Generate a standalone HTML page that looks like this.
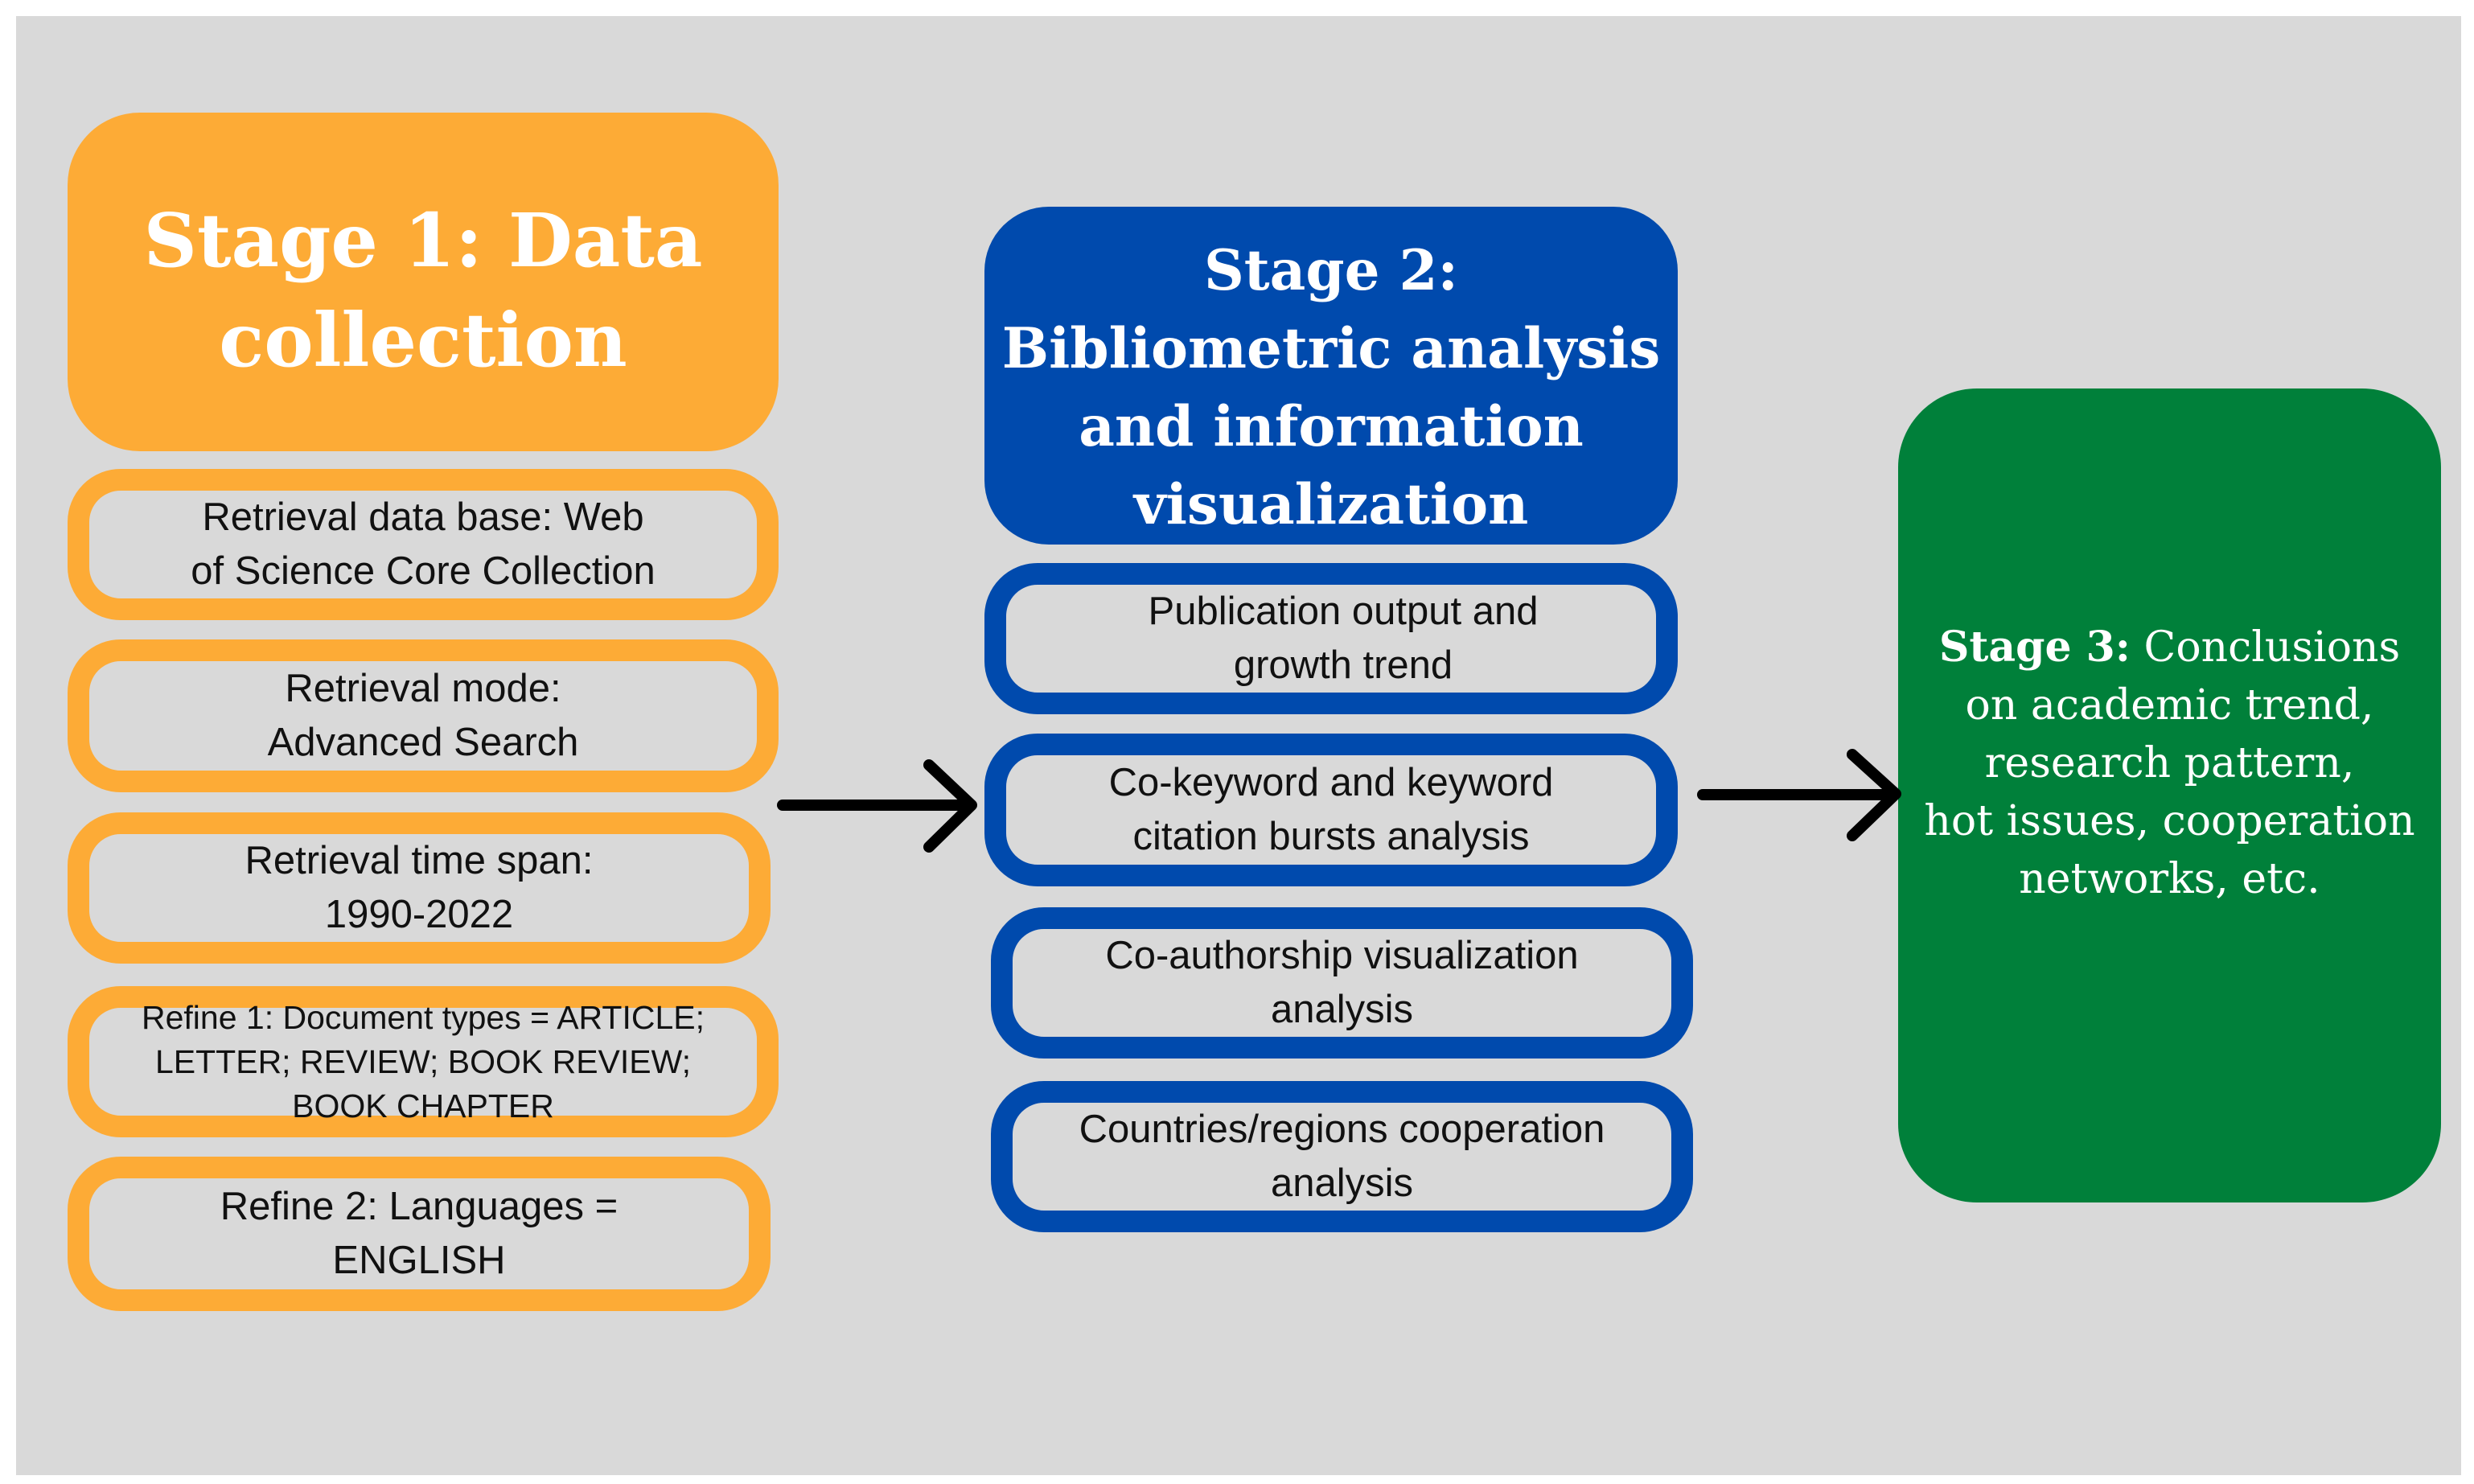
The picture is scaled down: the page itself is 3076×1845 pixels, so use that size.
<!DOCTYPE html>
<html><head><meta charset="utf-8"><style>
html,body{margin:0;padding:0;background:#fff;}
body{width:3076px;height:1845px;position:relative;overflow:hidden;}
.bg{position:absolute;left:20px;top:20px;width:3040px;height:1814px;background:#d9d9d9;}
.abs{position:absolute;box-sizing:border-box;display:flex;align-items:center;justify-content:center;text-align:center;}
.hdr{color:#fff;font-family:"DejaVu Serif","Liberation Serif",serif;font-weight:bold;}
.ob{border:27px solid #fdab36;border-radius:66px;}
.bb{border:27px solid #004aad;border-radius:66px;}
.bt{font-family:"Liberation Sans",Arial,sans-serif;font-size:49px;line-height:67px;color:#111;}
</style></head><body>
<div class="bg"></div>

<div class="abs hdr" style="left:84px;top:140px;width:884px;height:421px;background:#fdab36;border-radius:90px;font-size:92px;line-height:124px;padding-top:20px;">Stage 1: Data<br>collection</div>

<div class="abs ob bt" style="left:84px;top:583px;width:884px;height:188px;">Retrieval data base: Web<br>of Science Core Collection</div>
<div class="abs ob bt" style="left:84px;top:795px;width:884px;height:190px;">Retrieval mode:<br>Advanced Search</div>
<div class="abs ob bt" style="left:84px;top:1010px;width:874px;height:188px;">Retrieval time span:<br>1990-2022</div>
<div class="abs ob bt" style="left:84px;top:1226px;width:884px;height:188px;font-size:41px;line-height:55px;">Refine 1: Document types = ARTICLE;<br>LETTER; REVIEW; BOOK REVIEW;<br>BOOK CHAPTER</div>
<div class="abs ob bt" style="left:84px;top:1438px;width:874px;height:192px;">Refine 2: Languages =<br>ENGLISH</div>

<div class="abs hdr" style="left:1224px;top:257px;width:862px;height:420px;background:#004aad;border-radius:80px;font-size:69px;line-height:97px;padding-top:30px;">Stage 2:<br>Bibliometric analysis<br>and information<br>visualization</div>

<div class="abs bb bt" style="left:1224px;top:700px;width:862px;height:188px;padding-left:30px;">Publication output and<br>growth trend</div>
<div class="abs bb bt" style="left:1224px;top:912px;width:862px;height:190px;">Co-keyword and keyword<br>citation bursts analysis</div>
<div class="abs bb bt" style="left:1232px;top:1128px;width:873px;height:188px;">Co-authorship visualization<br>analysis</div>
<div class="abs bb bt" style="left:1232px;top:1344px;width:873px;height:188px;">Countries/regions cooperation<br>analysis</div>

<div class="abs" style="left:2360px;top:483px;width:675px;height:1012px;background:#00803a;border-radius:98px;color:#fff;font-family:'DejaVu Serif','Liberation Serif',serif;font-size:52px;line-height:72px;padding-bottom:80px;"><div><b>Stage 3:</b> Conclusions<br>on academic trend,<br>research pattern,<br>hot issues, cooperation<br>networks, etc.</div></div>

<svg style="position:absolute;left:0;top:0" width="3076" height="1845">
<g stroke="#000" stroke-width="14" stroke-linecap="round" stroke-linejoin="round" fill="none">
<line x1="973" y1="1001" x2="1205" y2="1001"/>
<polyline points="1155,951 1208,1001 1155,1053"/>
<line x1="2117" y1="988" x2="2355" y2="988"/>
<polyline points="2303,938 2357,987 2303,1039"/>
</g></svg>
</body></html>
